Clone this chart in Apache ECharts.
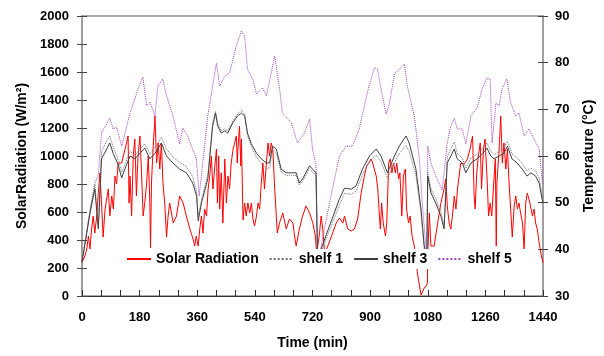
<!DOCTYPE html>
<html>
<head>
<meta charset="utf-8">
<script src="https://cdn.jsdelivr.net/npm/echarts@6/dist/echarts.min.js"></script>
<style>
  html, body { margin: 0; padding: 0; background: #fff; }
  #main { width: 604px; height: 356px; }
</style>
</head>
<body>
<div id="main"></div>
<script>
// time in minutes
var legendNames = ['Solar Radiation', 'shelf 1', 'shelf 3', 'shelf 5'];

// solar radiation, W/m2  [time, value]
var solarRadiation = [
  [0,238],[9,286],[15,336],[20,428],[25,336],[30,479],[35,571],[40,450],[46,571],[51,736],[56,879],[61,664],[66,421],[72,621],[82,764],[87,571],[93,714],[98,621],[103,857],[108,800],[113,950],[124,950],[129,1000],[137,1071],[144,1143],[147,664],[150,857],[155,571],[160,1000],[165,1121],[170,714],[175,1000],[181,1143],[186,879],[191,571],[196,664],[202,807],[207,1000],[212,664],[214,343],[217,807],[222,1050],[228,1286],[233,950],[238,1093],[243,907],[248,1093],[253,807],[259,643],[264,421],[269,571],[274,664],[285,521],[295,571],[305,714],[316,664],[326,571],[337,479],[347,407],[352,357],[357,428],[363,357],[368,479],[373,571],[378,450],[383,621],[389,571],[394,764],[399,857],[404,1000],[409,764],[415,929],[420,1050],[423,664],[427,1000],[430,621],[435,879],[440,521],[446,979],[451,664],[456,857],[461,764],[466,950],[472,1050],[477,1093],[482,1143],[485,950],[487,1050],[492,1214],[496,929],[498,1121],[503,543],[508,664],[513,571],[518,664],[524,593],[529,664],[534,550],[539,500],[545,571],[550,664],[555,621],[560,807],[565,950],[570,764],[576,950],[581,1093],[586,1000],[591,1093],[596,1050],[602,764],[607,571],[610,450],[617,521],[627,593],[638,479],[648,550],[659,521],[664,428],[669,357],[679,479],[689,571],[700,643],[711,593],[721,521],[729,428],[733,300],[742,450],[747,571],[752,479],[758,300],[768,357],[783,450],[794,521],[804,557],[815,521],[820,571],[830,479],[841,464],[851,479],[861,550],[872,736],[882,857],[889,929],[896,950],[903,979],[908,950],[913,907],[919,857],[924,764],[929,571],[932,479],[936,664],[941,521],[948,428],[952,521],[958,950],[963,979],[968,879],[973,950],[979,879],[983,950],[989,836],[993,879],[999,571],[1004,857],[1010,907],[1014,621],[1020,521],[1025,571],[1031,428],[1038,357],[1047,174],[1059,7],[1069,57],[1077,79],[1079,100],[1080,300],[1085,593],[1090,357],[1100,357],[1111,521],[1121,664],[1126,714],[1131,764],[1136,836],[1141,643],[1147,521],[1152,479],[1157,571],[1163,714],[1168,621],[1173,764],[1178,857],[1183,950],[1194,943],[1204,979],[1212,1050],[1220,1143],[1225,714],[1228,621],[1233,879],[1238,1000],[1244,1093],[1248,764],[1254,1050],[1259,1121],[1265,857],[1270,571],[1275,664],[1280,571],[1286,807],[1291,979],[1294,357],[1296,807],[1303,1050],[1308,1286],[1313,950],[1318,1093],[1324,907],[1329,1050],[1334,807],[1339,621],[1344,421],[1350,643],[1355,714],[1360,621],[1365,664],[1370,593],[1376,521],[1381,336],[1386,664],[1391,736],[1399,664],[1407,571],[1412,621],[1417,521],[1422,479],[1428,379],[1435,286],[1440,236]
];

// shelf temperatures, deg C  [time, value]
var shelf1 = [
  [0,37.3],[25,48.5],[40,54.0],[51,45.0],[61,61.0],[77,63.2],[87,64.3],[97,62.0],[112,59.5],[124,56.5],[134,58.2],[150,61.0],[165,60.2],[181,61.5],[196,62.6],[212,60.5],[228,61.8],[237,62.8],[248,64.0],[264,61.5],[284,59.8],[305,58.6],[326,57.8],[346,55.5],[358,52.5],[363,47.0],[373,50.5],[393,56.0],[408,67.0],[417,69.6],[424,67.0],[435,65.4],[446,65.8],[455,65.4],[471,67.5],[486,69.0],[498,69.8],[508,69.0],[517,64.5],[529,62.0],[545,59.8],[560,58.4],[576,57.2],[586,57.5],[595,61.2],[607,60.5],[622,56.6],[638,55.8],[654,55.9],[669,55.8],[679,53.8],[689,54.6],[711,57.2],[720,56.6],[731,55.8],[736,37.0],[747,39.5],[773,44.0],[804,49.5],[820,52.0],[841,51.8],[856,52.5],[876,56.0],[898,58.8],[919,60.2],[934,58.8],[954,55.2],[976,58.6],[991,60.5],[1012,62.3],[1022,61.0],[1043,55.8],[1059,47.8],[1069,40.0],[1077,38.3],[1080,56.5],[1090,53.0],[1105,50.8],[1121,48.0],[1131,45.0],[1141,59.8],[1152,61.5],[1163,63.0],[1172,60.6],[1188,59.5],[1199,57.4],[1215,59.6],[1234,60.4],[1250,61.5],[1265,62.8],[1277,61.0],[1287,60.3],[1303,61.0],[1318,61.8],[1329,63.2],[1343,60.5],[1359,59.6],[1375,58.4],[1390,56.8],[1402,57.4],[1417,56.8],[1428,55.2],[1437,51.8],[1440,51.0]
];
var shelf3 = [
  [0,37.3],[25,47.8],[40,52.9],[51,44.4],[61,59.4],[77,61.5],[87,62.8],[97,60.6],[112,58.3],[124,55.3],[134,57.2],[150,60.0],[165,59.4],[181,60.6],[196,61.7],[212,59.4],[228,60.6],[237,61.5],[248,62.8],[264,60.0],[284,58.5],[305,57.2],[326,56.4],[346,54.2],[358,51.4],[363,46.1],[373,49.9],[393,55.1],[408,66.4],[417,69.2],[424,66.4],[435,64.9],[446,65.4],[455,64.9],[471,67.1],[486,68.6],[498,69.2],[508,68.6],[517,64.9],[529,62.6],[545,60.6],[560,59.4],[576,58.5],[586,58.5],[595,62.1],[607,61.5],[622,57.2],[638,56.4],[654,56.4],[669,56.4],[679,54.2],[689,55.1],[711,57.9],[720,57.2],[731,56.4],[736,37.5],[747,40.1],[773,45.0],[804,50.8],[820,53.1],[841,52.9],[856,53.6],[876,57.2],[898,60.0],[919,61.5],[934,60.0],[954,56.4],[976,60.0],[991,62.1],[1012,64.3],[1022,62.8],[1043,57.2],[1059,48.6],[1069,40.7],[1077,38.5],[1080,55.7],[1090,52.1],[1105,49.9],[1121,47.1],[1131,44.4],[1141,58.5],[1152,60.0],[1163,61.5],[1172,59.4],[1188,58.5],[1199,56.4],[1215,58.5],[1234,59.4],[1250,60.4],[1265,61.7],[1277,60.0],[1287,59.4],[1303,60.0],[1318,60.6],[1329,62.1],[1343,59.4],[1359,58.5],[1375,57.2],[1390,55.7],[1402,56.4],[1417,55.7],[1428,54.2],[1437,50.8],[1440,50.1]
];
var shelf5 = [
  [0,37.3],[25,47.9],[40,54.2],[51,56.0],[61,65.0],[87,68.1],[97,65.8],[108,66.2],[124,62.1],[150,69.2],[175,74.4],[190,76.9],[202,70.7],[212,71.6],[228,68.6],[237,75.0],[252,76.5],[264,72.9],[284,68.6],[305,62.6],[315,66.0],[330,64.3],[357,59.4],[362,55.1],[366,51.4],[393,68.6],[408,75.0],[420,79.9],[430,75.0],[446,77.1],[461,77.8],[482,83.6],[498,86.8],[508,85.7],[517,78.6],[533,76.5],[545,73.3],[564,74.6],[576,72.9],[602,81.4],[617,74.4],[626,69.2],[654,67.1],[673,62.8],[695,64.9],[711,67.9],[720,61.5],[731,57.9],[736,36.0],[747,40.7],[773,49.9],[804,60.0],[825,62.1],[845,62.1],[866,65.8],[891,73.5],[913,78.9],[923,78.6],[934,74.4],[950,69.0],[960,71.1],[976,77.6],[991,78.6],[1007,79.7],[1016,75.0],[1038,68.6],[1054,59.4],[1063,49.9],[1074,40.7],[1078,37.0],[1080,62.1],[1090,58.5],[1105,55.7],[1125,52.7],[1141,62.8],[1152,66.4],[1163,68.1],[1172,65.8],[1188,65.8],[1199,62.6],[1215,68.6],[1234,70.3],[1250,74.4],[1265,76.7],[1275,76.5],[1281,62.8],[1293,71.4],[1303,70.7],[1312,74.4],[1327,76.5],[1339,71.4],[1355,68.6],[1365,69.2],[1381,64.3],[1396,65.8],[1412,63.6],[1428,61.5],[1437,55.1],[1440,53.8]
];

var font = "'Liberation Sans', Arial, sans-serif";
var labelStyle = { color: '#000', fontSize: 13, fontWeight: 'bold', fontFamily: font };
var nameStyle = { color: '#000', fontSize: 14, fontWeight: 'bold', fontFamily: font };
var plain = function (v) { return String(v); };

var mychart = echarts.init(document.getElementById('main'), null, { renderer: 'canvas' });

var option = {
    animation: false,
    backgroundColor: '#fff',
    textStyle: { fontFamily: font },
    grid: {
        left: 82, right: 60, top: 16, bottom: 60,
        show: true,
        borderColor: '#555',
        borderWidth: 1
    },
    legend: {
        data: legendNames,
        left: 121,
        top: 249,
        padding: [3, 5, 3, 5],
        itemGap: 10,
        itemWidth: 24,
        itemHeight: 10,
        backgroundColor: '#fff',
        itemStyle: { opacity: 0 },
        textStyle: { color: '#000', fontSize: 14, fontWeight: 'bold', fontFamily: font }
    },
    xAxis: {
        type: 'value',
        min: 0, max: 1440, interval: 60,
        name: 'Time (min)',
        nameLocation: 'middle',
        nameGap: 40,
        nameTextStyle: nameStyle,
        axisLine: { show: true, lineStyle: { color: '#333', width: 1 } },
        axisTick: { show: true, inside: true, length: 6, lineStyle: { color: '#333' } },
        axisLabel: Object.assign({
            margin: 15,
            formatter: function (v) { return v % 180 === 0 ? String(v) : ''; }
        }, labelStyle),
        splitLine: { show: false }
    },
    yAxis: [
        {
            // solar radiation
            type: 'value', position: 'left',
            min: 0, max: 2000, interval: 200,
            name: 'SolarRadiation (W/m\u00b2)',
            nameLocation: 'middle', nameRotate: 90, nameGap: 53,
            nameTextStyle: nameStyle,
            axisLine: { show: true, lineStyle: { color: '#a0a0a0', width: 2 } },
            axisTick: { show: true, length: 5, lineStyle: { color: '#444' } },
            axisLabel: Object.assign({ margin: 13, formatter: plain }, labelStyle),
            splitLine: { show: false }
        },
        {
            // temperature
            type: 'value', position: 'right',
            min: 30, max: 90, interval: 10,
            name: 'Temperature (\u00b0C)',
            nameLocation: 'middle', nameRotate: 90, nameGap: 39,
            nameTextStyle: nameStyle,
            axisLine: { show: true, lineStyle: { color: '#a0a0a0', width: 2 } },
            axisTick: { show: true, length: 5, lineStyle: { color: '#444' } },
            axisLabel: Object.assign({ margin: 12, formatter: plain }, labelStyle),
            splitLine: { show: false }
        },
        // inner halves of the crossing ticks
        {
            type: 'value', position: 'left',
            min: 0, max: 2000, interval: 200,
            axisLine: { show: false },
            axisTick: { show: true, inside: true, length: 5, lineStyle: { color: '#444' } },
            axisLabel: { show: false },
            splitLine: { show: false }
        },
        {
            type: 'value', position: 'right',
            min: 30, max: 90, interval: 10,
            axisLine: { show: false },
            axisTick: { show: true, inside: true, length: 5, lineStyle: { color: '#444' } },
            axisLabel: { show: false },
            splitLine: { show: false }
        }
    ],
    series: [
        {
            name: 'Solar Radiation',
            type: 'line',
            yAxisIndex: 0,
            symbol: 'none',
            data: solarRadiation,
            lineStyle: { color: '#ff0000', width: 1 },
            itemStyle: { color: '#ff0000' }
        },
        {
            name: 'shelf 5',
            type: 'line',
            yAxisIndex: 1,
            symbol: 'none',
            data: shelf5,
            lineStyle: { color: '#a040c0', width: 1, type: 'dotted' },
            itemStyle: { color: '#a040c0' }
        },
        {
            name: 'shelf 1',
            type: 'line',
            yAxisIndex: 1,
            symbol: 'none',
            data: shelf1,
            lineStyle: { color: '#707070', width: 1, type: 'dotted' },
            itemStyle: { color: '#707070' }
        },
        {
            name: 'shelf 3',
            type: 'line',
            yAxisIndex: 1,
            symbol: 'none',
            data: shelf3,
            lineStyle: { color: '#404040', width: 1 },
            itemStyle: { color: '#404040' }
        }
    ]
};
mychart.setOption(option);
</script>
</body>
</html>
